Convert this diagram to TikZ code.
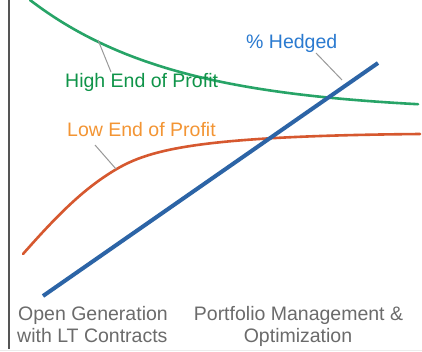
\documentclass[tikz,border=0pt]{standalone}
\usepackage{fontspec}
\setmainfont{Liberation Sans}
\definecolor{gcurve}{HTML}{27A467}
\definecolor{gtext}{HTML}{0F9449}
\definecolor{ocurve}{HTML}{D6582F}
\definecolor{otext}{HTML}{F39534}
\definecolor{bline}{HTML}{2C64A6}
\definecolor{btext}{HTML}{2A7AD0}
\definecolor{graytext}{HTML}{6B6B6B}
\definecolor{axisgray}{HTML}{555555}
\begin{document}
\begin{tikzpicture}[x=1pt,y=-1pt,
  lbl/.style={font=\fontsize{19.5}{22}\selectfont, inner sep=0pt, anchor=base west},
  leader/.style={draw=gray!80, line width=1pt},
  curve/.style={line width=2.6pt, line cap=round}]
\useasboundingbox (0,0) rectangle (422,351);
\fill[white] (0,0) rectangle (422,351);
% axis
\coordinate (axtop) at (9,0);
\coordinate (axbot) at (9,349);
\draw[axisgray, line width=2.2pt] (axtop) -- (axbot);
\draw[gray!15, line width=0.8pt] (0,350) -- (422,350);
% curves
\draw[curve, gcurve, domain=30:418, samples=120] plot (\x, {112*(1-exp(-0.00687*(\x-30)))});
\coordinate (os) at (23,254);
\coordinate (om) at (115,170);
\coordinate (oe) at (420,134);
\draw[curve, ocurve] (os) .. controls (60,212) and (85,188) .. (om)
  .. controls (150,149) and (200,136) .. (oe);
\coordinate (bstart) at (43,296);
\coordinate (bend) at (378,63);
\draw[bline, line width=4pt] (bstart) -- (bend);
% labels
\node[lbl, text=gtext] (high) at (65,87) {High End of Profit};
\node[lbl, text=otext] (low) at (67,136) {Low End of Profit};
\node[lbl, text=btext] (hedged) at (246,48) {\% Hedged};
\node[lbl, text=graytext] (open1) at (18,320) {Open Generation};
\node[lbl, text=graytext] (open2) at (17,342) {with LT Contracts};
\node[font=\fontsize{19.5}{22}\selectfont, inner sep=0pt, anchor=base, text=graytext] (port1) at (298.5,320) {Portfolio Management \&};
\node[font=\fontsize{19.5}{22}\selectfont, inner sep=0pt, anchor=base, text=graytext] (port2) at (298,342) {Optimization};
% leaders
\coordinate (gl1) at (98,40);
\coordinate (gl2) at (111,72);
\draw[leader] (gl1) -- (gl2);
\coordinate (ol1) at (95,145);
\coordinate (ol2) at (116,169);
\draw[leader] (ol1) -- (ol2);
\coordinate (bl1) at (316,53);
\coordinate (bl2) at (342,80);
\draw[leader] (bl1) -- (bl2);
\end{tikzpicture}
\end{document}
